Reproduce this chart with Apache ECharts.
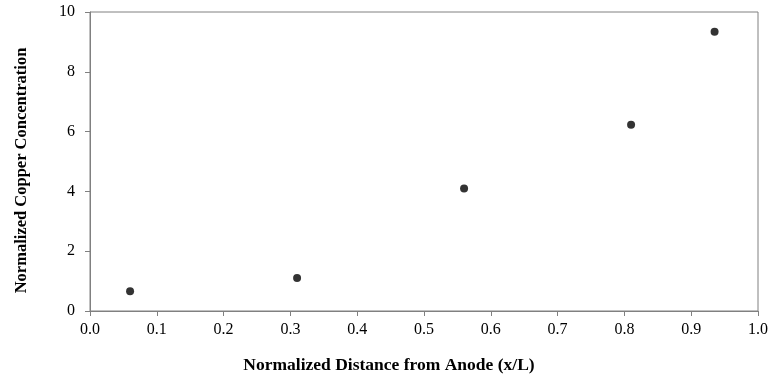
<!DOCTYPE html>
<html><head><meta charset="utf-8">
<script src="https://cdn.jsdelivr.net/npm/echarts@6/dist/echarts.min.js"></script>
<style>html,body{margin:0;padding:0;background:#fff}#c{width:773px;height:379px}</style>
</head><body><div id="c"></div>
<script>
const xValues = [0.06, 0.31, 0.56, 0.81, 0.935];
const yValues = [0.66, 1.1, 4.1, 6.23, 9.34];
const xTitle = 'Normalized Distance from Anode (x/L)';
const yTitle = 'Normalized Copper Concentration';
const font = '"Liberation Serif", "Times New Roman", serif';
const chart = echarts.init(document.getElementById('c'));
const axisCommon = {
  axisLine: {show: true, onZero: false, lineStyle: {color: '#808080', width: 1}},
  axisTick: {show: true, inside: false, length: 5, lineStyle: {color: '#808080'}},
  splitLine: {show: false},
  axisLabel: {color: '#000', fontFamily: font, fontSize: 16},
  nameTextStyle: {color: '#000', fontFamily: font, fontSize: 17, fontWeight: 'bold'}
};
chart.setOption({
  animation: false,
  grid: {left: 90, right: 15, top: 12, bottom: 67, show: true, borderColor: '#808080', borderWidth: 1},
  xAxis: Object.assign({}, axisCommon, {
    type: 'value', min: 0, max: 1, interval: 0.1,
    name: xTitle, nameLocation: 'middle', nameGap: 45,
    nameTextStyle: Object.assign({}, axisCommon.nameTextStyle, {fontSize: 17.5, padding: [0, 70, 0, 0]}),
    axisLabel: Object.assign({}, axisCommon.axisLabel, {margin: 11, formatter: v => v.toFixed(1)})
  }),
  yAxis: Object.assign({}, axisCommon, {
    type: 'value', min: 0, max: 10, interval: 2,
    name: yTitle, nameLocation: 'middle', nameGap: 60,
    nameTextStyle: Object.assign({}, axisCommon.nameTextStyle, {fontSize: 16.5, padding: [0, 18, 0, 0]}),
    axisLabel: Object.assign({}, axisCommon.axisLabel, {margin: 15})
  }),
  series: [{
    type: 'scatter',
    symbol: 'circle', symbolSize: 8,
    itemStyle: {color: '#000'},
    data: xValues.map((x, i) => [x, yValues[i]])
  }]
});
</script></body></html>
